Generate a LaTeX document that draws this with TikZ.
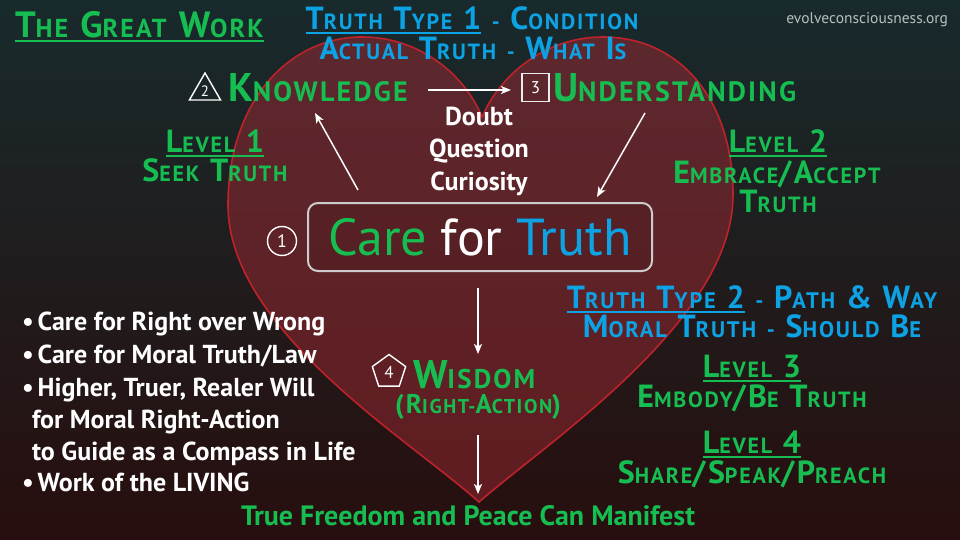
\documentclass[tikz,border=0pt]{standalone}
\usepackage{fontspec}
\setmainfont{PT Sans}
\newfontfamily\scf[LetterSpace=8]{PT Sans}
\usetikzlibrary{shapes.geometric,arrows.meta}
\definecolor{gw}{RGB}{22,190,82}
\definecolor{bl}{RGB}{12,162,228}
\definecolor{urlc}{RGB}{185,190,190}
\definecolor{heartline}{RGB}{190,34,42}
\definecolor{bgtop}{RGB}{24,42,44}
\definecolor{bgmid}{RGB}{30,36,34}
\definecolor{bgbot}{RGB}{40,14,14}
\definecolor{hearttop}{RGB}{92,40,46}
\definecolor{heartbot}{RGB}{96,28,32}
\newcommand\scset[2]{\def\scbig{#1}\def\scsmall{#2}\fontsize{#1}{#1}\selectfont}
\newcommand\W[2]{{\fontsize{\scbig}{\scbig}\selectfont#1}{\fontsize{\scsmall}{\scsmall}\selectfont#2}}
\newcommand\ulx[1]{\setbox0\hbox{#1}\rlap{\rule[-4.5pt]{\wd0}{2pt}}\box0\relax}
\tikzset{
  txt/.style={inner sep=0pt, outer sep=0pt},
  gtxt/.style={txt, text=gw, font=\scf\bfseries\scset{32pt}{22pt}},
  btxt/.style={txt, text=bl, font=\scf\bfseries\scset{32pt}{22pt}},
  wtxt/.style={txt, text=white, font=\bfseries\fontsize{26pt}{26pt}\selectfont},
  arr/.style={draw=white, line width=1.5pt, -{Stealth[length=10pt,width=8pt,inset=2.5pt]}},
  icon/.style={draw=white, line width=1.4pt, inner sep=0pt, text=white, font=\fontsize{17pt}{17pt}\selectfont},
}
\begin{document}
\begin{tikzpicture}[x=1pt,y=-1pt]
\useasboundingbox (0,0) rectangle (960,540);
\shade[top color=bgtop, middle color=bgmid, bottom color=bgbot] (0,0) rectangle (960,540);
% heart
\path[draw=heartline, line width=1.6pt, top color=hearttop, bottom color=heartbot]
  (479,502) .. controls (410,440) and (228,330) .. (228,205)
  .. controls (228,100) and (290,37) .. (362,37)
  .. controls (420,37) and (465,75) .. (482,117)
  .. controls (500,75) and (545,37) .. (603,37)
  .. controls (680,37) and (733,100) .. (733,195)
  .. controls (733,320) and (550,440) .. (479,502) -- cycle;
% title and url
\node[txt, anchor=base west, text=gw, font=\scf\bfseries\scset{36.5pt}{26pt}] (title) at (15,38) {\ulx{\W{T}{HE} \W{G}{REAT} \W{W}{ORK}}};
\node[txt, anchor=base east, text=urlc, font=\fontsize{15.5pt}{15.5pt}\selectfont] (url) at (948,24) {evolveconsciousness.org};
% truth type 1
\node[btxt, anchor=base] (tt1) at (472,30) {\ulx{\W{T}{RUTH} \W{T}{YPE} 1} \W{}{-} \W{C}{ONDITION}};
\node[btxt, anchor=base] (at1) at (473,60) {\W{A}{CTUAL} \W{T}{RUTH} \W{}{-} \W{W}{HAT} \W{I}{S}};
% knowledge / understanding
\node[icon, regular polygon, regular polygon sides=3, minimum size=36pt, font=\fontsize{15pt}{15pt}\selectfont] (tri) at (205,91) {2};
\node[gtxt, anchor=base west, font=\scf\bfseries\scset{40pt}{28pt}] (know) at (228,102) {\W{K}{NOWLEDGE}};
\node[icon, rectangle, minimum width=27pt, minimum height=28pt, draw=white!85!gray] (sq) at (535.5,87.5) {3};
\node[gtxt, anchor=base west, font=\scf\bfseries\scset{40pt}{28pt}] (und) at (553,102) {\W{U}{NDERSTANDING}};
\coordinate (ku1) at (428,90);
\coordinate (ku2) at (511,90);
\draw[arr] (ku1) -- (ku2);
% doubt question curiosity
\node[wtxt, anchor=base] (doubt) at (479,126) {Doubt};
\node[wtxt, anchor=base] (quest) at (479,158) {Question};
\node[wtxt, anchor=base] (curio) at (479,190) {Curiosity};
% levels 1 and 2
\node[gtxt, anchor=base] (l1) at (215,153) {\ulx{\W{L}{EVEL} 1}};
\node[gtxt, anchor=base] (l1b) at (215,182) {\W{S}{EEK} \W{T}{RUTH}};
\node[gtxt, anchor=base] (l2) at (778,153) {\ulx{\W{L}{EVEL} 2}};
\node[gtxt, anchor=base] (l2b) at (777,183) {\W{E}{MBRACE}/\W{A}{CCEPT}};
\node[gtxt, anchor=base] (l2c) at (778,212) {\W{T}{RUTH}};
% care for truth
\node[draw=white!60!gray, line width=2pt, rounded corners=10pt, minimum width=344pt, minimum height=68pt, fill=black, fill opacity=0.08, text opacity=1, inner sep=0pt, font=\fontsize{52pt}{52pt}\selectfont] (care) at (480,237) {\textcolor{gw}{Care} \textcolor{white}{for} \textcolor{bl}{Truth}};
\node[icon, circle, minimum size=29pt, font=\fontsize{18pt}{18pt}\selectfont] (c1) at (282,241) {1};
\coordinate (ck1) at (358,190);
\coordinate (ck2) at (315,113);
\draw[arr] (ck1) -- (ck2);
\coordinate (uc1) at (645,113);
\coordinate (uc2) at (597,197);
\draw[arr] (uc1) -- (uc2);
\coordinate (cw1) at (478,288);
\coordinate (cw2) at (478,354);
\draw[arr] (cw1) -- (cw2);
% wisdom
\node[icon, regular polygon, regular polygon sides=5, minimum size=35pt] (pent) at (389,372) {4};
\node[gtxt, anchor=base west, font=\scf\bfseries\scset{40pt}{27pt}] (wis) at (413,388) {\W{W}{ISDOM}};
\node[gtxt, anchor=base, font=\scf\bfseries\scset{27pt}{20pt}] (ra) at (478,413) {\W{(R}{IGHT-}\W{A}{CTION}\W{)}{}};
\coordinate (wf1) at (478,435);
\coordinate (wf2) at (478,494);
\draw[arr] (wf1) -- (wf2);
\node[gtxt, anchor=base, font=\bfseries\fontsize{28pt}{28pt}\selectfont] (free) at (468,525) {True Freedom and Peace Can Manifest};
% truth type 2
\node[btxt, anchor=base, font=\scf\bfseries\scset{32pt}{22.5pt}] (tt2) at (752,308) {\ulx{\W{T}{RUTH} \W{T}{YPE} 2} \W{}{-} \W{P}{ATH} \& \W{W}{AY}};
\node[btxt, anchor=base, font=\scf\bfseries\scset{32pt}{22.5pt}] (mt) at (752,337) {\W{M}{ORAL} \W{T}{RUTH} \W{}{-} \W{S}{HOULD} \W{B}{E}};
\node[gtxt, anchor=base] (l3) at (752,377) {\ulx{\W{L}{EVEL} 3}};
\node[gtxt, anchor=base] (l3b) at (752,407) {\W{E}{MBODY}/\W{B}{E} \W{T}{RUTH}};
\node[gtxt, anchor=base] (l4) at (752,453) {\ulx{\W{L}{EVEL} 4}};
\node[gtxt, anchor=base] (l4b) at (752,483) {\W{S}{HARE}/\W{S}{PEAK}/\W{P}{REACH}};
% bullets
\node[wtxt, anchor=base west] (b1) at (22,330) {•\hspace{4pt}Care for Right over Wrong};
\node[wtxt, anchor=base west] (b2) at (22,363) {•\hspace{4pt}Care for Moral Truth/Law};
\node[wtxt, anchor=base west] (b3) at (22,396) {•\hspace{4pt}Higher, Truer, Realer Will};
\node[wtxt, anchor=base west] (b4) at (32,428) {for Moral Right-Action};
\node[wtxt, anchor=base west] (b5) at (32,460) {to Guide as a Compass in Life};
\node[wtxt, anchor=base west] (b6) at (22,491) {•\hspace{4pt}Work of the LIVING};
\end{tikzpicture}
\end{document}
